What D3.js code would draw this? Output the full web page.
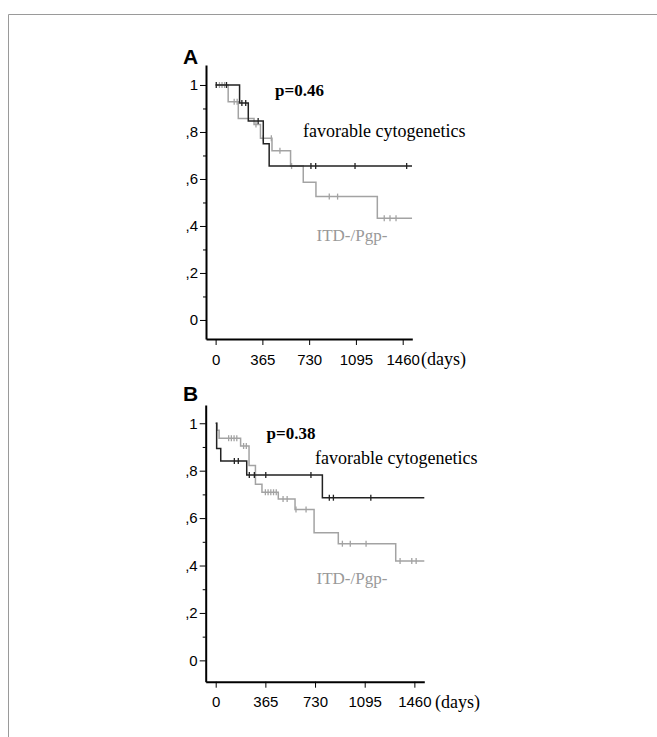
<!DOCTYPE html>
<html>
<head>
<meta charset="utf-8">
<script src="https://cdn.jsdelivr.net/npm/d3@7"></script>
<style>
  html, body { margin: 0; padding: 0; background: #fff; }
  svg { display: block; }
</style>
</head>
<body>
<svg id="chart" width="657" height="737"></svg>
<script>
// ---------- DATA ----------
const yTickValues = [0, 0.2, 0.4, 0.6, 0.8, 1];
const yTickLabels = ["0", ",2", ",4", ",6", ",8", "1"];
const yMinorTicks = [0.1, 0.3, 0.5, 0.7, 0.9];
const xTickValues = [0, 365, 730, 1095, 1460];
const xTickLabels = ["0", "365", "730", "1095", "1460"];
const followUpEnd = 1533;

// Panel A
const aFavSteps = [[0, 1], [187, 0.923], [255, 0.847], [372, 0.75], [418, 0.655]];
const aFavCensor = [5, 85, 205, 235, 332, 744, 781, 1088, 1491];
const aItdSteps = [[0, 1], [98, 0.929], [177, 0.857], [300, 0.832], [350, 0.773], [440, 0.72], [585, 0.655], [684, 0.586], [783, 0.525], [1262, 0.433]];
const aItdCensor = [30, 50, 70, 145, 168, 315, 372, 435, 502, 593, 887, 952, 1316, 1361, 1408];
const aPValue = "p=0.46";

// Panel B
const bFavSteps = [[0, 1], [7, 0.894], [37, 0.841], [228, 0.782], [784, 0.686]];
const bFavCensor = [137, 166, 247, 284, 368, 700, 835, 865, 1140];
const bItdSteps = [[0, 1], [10, 0.97], [25, 0.937], [183, 0.904], [245, 0.822], [292, 0.743], [340, 0.709], [460, 0.681], [583, 0.636], [723, 0.538], [901, 0.492], [1323, 0.419]];
const bItdCensor = [95, 115, 135, 155, 205, 225, 365, 385, 405, 425, 445, 495, 525, 590, 664, 931, 989, 1105, 1355, 1441, 1473];
const bPValue = "p=0.38";

const seriesNames = ["favorable cytogenetics", "ITD-/Pgp-"];
// ---------- END DATA ----------

const svg = d3.select("#chart");
const SANS = "'Liberation Sans', Arial, sans-serif";
const SERIF = "'Liberation Serif', 'Times New Roman', serif";
const DARK = "#222";
const GRAY = "#a3a3a3";

// frame
svg.append("line").attr("x1", 8.5).attr("y1", 14.5).attr("x2", 657).attr("y2", 14.5)
  .attr("stroke", "#9a9a9a").attr("stroke-width", 1);
svg.append("line").attr("x1", 8.5).attr("y1", 14.5).attr("x2", 8.5).attr("y2", 737)
  .attr("stroke", "#9a9a9a").attr("stroke-width", 1);

function survAt(steps, t) {
  let s = steps[0][1];
  for (const [d, v] of steps) { if (d <= t) s = v; }
  return s;
}

function stepPath(steps, end) {
  const pts = steps.map(d => [d[0], d[1]]);
  pts.push([end, steps[steps.length - 1][1]]);
  return pts;
}

function drawPanel(cfg) {
  const g = svg.append("g");
  const x = d3.scaleLinear().domain(cfg.xDomain).range(cfg.xRange);
  const y = d3.scaleLinear().domain(cfg.yDomain).range(cfg.yRange);

  // y axis major
  const yAxis = d3.axisLeft(y).tickValues(yTickValues)
    .tickFormat((d, i) => yTickLabels[i]).tickSize(6).tickSizeOuter(0).tickPadding(2);
  const ya = g.append("g").attr("transform", `translate(${cfg.xRange[0]},0)`).call(yAxis);
  ya.attr("font-family", SANS).attr("font-size", 15);
  ya.select(".domain").attr("stroke", "#000").attr("stroke-width", 2);
  ya.selectAll(".tick line").attr("stroke", "#000").attr("stroke-width", 1);
  ya.selectAll(".tick text").attr("fill", "#000");
  // y minor
  const yMinor = d3.axisLeft(y).tickValues(yMinorTicks).tickFormat("").tickSize(3).tickSizeOuter(0);
  const ym = g.append("g").attr("transform", `translate(${cfg.xRange[0]},0)`).call(yMinor);
  ym.select(".domain").remove();
  ym.selectAll(".tick line").attr("stroke", "#000").attr("stroke-width", 1);

  // x axis
  const xAxis = d3.axisBottom(x).tickValues(xTickValues)
    .tickFormat((d, i) => xTickLabels[i]).tickSize(6).tickSizeOuter(0).tickPadding(9);
  const xa = g.append("g").attr("transform", `translate(0,${cfg.yRange[0]})`).call(xAxis);
  xa.attr("font-family", SANS).attr("font-size", 15);
  xa.select(".domain").attr("stroke", "#000").attr("stroke-width", 2);
  xa.selectAll(".tick line").attr("stroke", "#000").attr("stroke-width", 1);
  xa.selectAll(".tick text").attr("fill", "#000");

  g.append("text").attr("x", cfg.daysX).attr("y", cfg.yRange[0] + 26)
    .attr("font-family", SERIF).attr("font-size", 18).attr("fill", "#000").text("(days)");

  // curves
  const line = d3.line().x(d => x(d[0])).y(d => y(d[1])).curve(d3.curveStepAfter);
  const series = [
    { steps: cfg.itdSteps, censor: cfg.itdCensor, color: GRAY },
    { steps: cfg.favSteps, censor: cfg.favCensor, color: DARK }
  ];
  series.forEach(s => {
    g.append("path").datum(stepPath(s.steps, followUpEnd))
      .attr("d", line).attr("fill", "none").attr("stroke", s.color).attr("stroke-width", 1.5);
    g.selectAll(null).data(s.censor).enter().append("line")
      .attr("x1", d => x(d)).attr("x2", d => x(d))
      .attr("y1", d => y(survAt(s.steps, d)) - 3).attr("y2", d => y(survAt(s.steps, d)) + 3)
      .attr("stroke", s.color).attr("stroke-width", 1.3);
  });

  // labels
  g.append("text").attr("x", cfg.letterPos[0]).attr("y", cfg.letterPos[1])
    .attr("font-family", SANS).attr("font-weight", "bold").attr("font-size", 21).attr("fill", "#000")
    .text(cfg.letter);
  g.append("text").attr("x", cfg.pPos[0]).attr("y", cfg.pPos[1])
    .attr("font-family", SERIF).attr("font-weight", "bold").attr("font-size", 17).attr("fill", "#000")
    .text(cfg.p);
  g.append("text").attr("x", cfg.favPos[0]).attr("y", cfg.favPos[1])
    .attr("font-family", SERIF).attr("font-size", 18).attr("fill", "#000")
    .text(seriesNames[0]);
  g.append("text").attr("x", cfg.itdPos[0]).attr("y", cfg.itdPos[1])
    .attr("font-family", SERIF).attr("font-size", 17).attr("fill", "#999")
    .text(seriesNames[1]);
}

drawPanel({
  letter: "A", p: aPValue,
  xDomain: [-75, 1535], xRange: [206, 412.3],
  yDomain: [-0.081, 1.085], yRange: [339, 65],
  favSteps: aFavSteps, favCensor: aFavCensor,
  itdSteps: aItdSteps, itdCensor: aItdCensor,
  letterPos: [183, 64], pPos: [275, 96], favPos: [303, 136.5], itdPos: [316.5, 241],
  daysX: 421
});

drawPanel({
  letter: "B", p: bPValue,
  xDomain: [-73.5, 1533], xRange: [205.7, 424.3],
  yDomain: [-0.09, 1.077], yRange: [681.7, 405],
  favSteps: bFavSteps, favCensor: bFavCensor,
  itdSteps: bItdSteps, itdCensor: bItdCensor,
  letterPos: [183, 401], pPos: [266.5, 438.5], favPos: [315, 463.5], itdPos: [316.5, 584],
  daysX: 435
});
</script>
</body>
</html>
